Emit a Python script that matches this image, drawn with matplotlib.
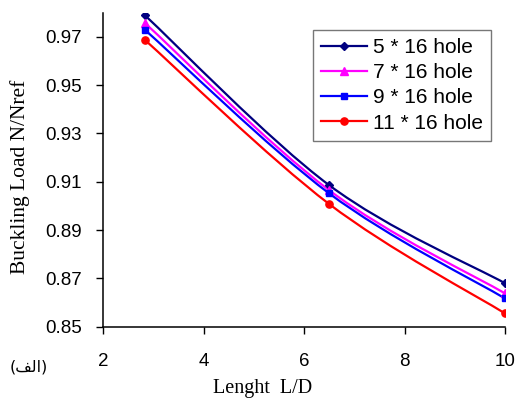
import matplotlib
matplotlib.use("Agg")
import matplotlib.pyplot as plt
from matplotlib.path import Path
from matplotlib.patches import PathPatch
from matplotlib.lines import Line2D
import numpy as np

# Data
x_ld = [2.83, 6.5, 10.0]
series_names = ["5 * 16 hole", "7 * 16 hole", "9 * 16 hole", "11 * 16 hole"]
s5 = [0.979, 0.9086, 0.868]
s7 = [0.9758, 0.9065, 0.8638]
s9 = [0.973, 0.9052, 0.8617]
s11 = [0.9688, 0.9008, 0.8555]
xticks = [2, 4, 6, 8, 10]
yticks = [0.85, 0.87, 0.89, 0.91, 0.93, 0.95, 0.97]

colors = ["#000080", "#FF00FF", "#0000FF", "#FF0000"]
markers = ["D", "^", "s", "o"]
msizes = [4.5, 5.5, 4.8, 5.2]

fig = plt.figure(figsize=(5.19, 4.0), dpi=100)
ax = fig.add_axes([103/519, 1-326.7/400, (505-103)/519, (326.7-12.7)/400])


def smooth_path(xs, ys):
    P = np.column_stack([xs, ys])
    n = len(P)
    verts = [P[0]]
    codes = [Path.MOVETO]
    for i in range(n - 1):
        p_prev = P[i - 1] if i > 0 else P[i]
        p_next2 = P[i + 2] if i + 2 < n else P[i + 1]
        c1 = P[i] + (P[i + 1] - p_prev) / 6.0
        c2 = P[i + 1] - (p_next2 - P[i]) / 6.0
        verts += [c1, c2, P[i + 1]]
        codes += [Path.CURVE4] * 3
    return Path(verts, codes)


handles = []
for ys, c, m, ms, name in zip([s5, s7, s9, s11], colors, markers, msizes, series_names):
    patch = PathPatch(smooth_path(x_ld, ys), facecolor="none", edgecolor=c, lw=1.6,
                      transform=ax.transData, zorder=2)
    ax.add_patch(patch)
    ax.plot(x_ld, ys, linestyle="none", marker=m, color=c, markersize=ms, zorder=3)
    handles.append(Line2D([], [], color=c, lw=1.6, marker=m, markersize=ms, label=name))

ax.set_xlim(2, 10)
ax.set_ylim(0.85, 0.98)
ax.set_xticks(xticks)
ax.set_yticks(yticks)
ax.set_xticklabels([str(v) for v in xticks], family="Liberation Sans", fontsize=13.5)
ax.set_yticklabels([f"{v:.2f}" for v in yticks], family="Liberation Sans", fontsize=13.5)
ax.tick_params(axis="x", direction="out", length=5, width=1, pad=14)
ax.tick_params(axis="y", direction="out", length=5, width=1, pad=10)

for side in ["top", "right"]:
    ax.spines[side].set_visible(False)
for side in ["left", "bottom"]:
    ax.spines[side].set_linewidth(1.1)

fig.text(263/519, 1-388/400, "Lenght  L/D", family="Liberation Serif", fontsize=14.5,
         ha="center", va="center")
fig.text(20/519, 1-177/400, "Buckling Load N/Nref", family="Liberation Serif", fontsize=15.5,
         ha="center", va="center", rotation=90)
fig.text(29/519, 1-367/400, "(\uFED2\uFEDF\uFE8D)", family=["DejaVu Sans"], fontsize=11.5,
         ha="center", va="center")

leg = ax.legend(handles=handles, loc="upper left",
                bbox_to_anchor=((313-103)/402, 1-(30-12.7)/314),
                prop={"family": "Liberation Sans", "size": 15},
                frameon=True, fancybox=False, edgecolor="#555555", handlelength=2.2,
                handletextpad=0.3, labelspacing=0.3, borderpad=0.38, borderaxespad=0)
leg.get_frame().set_linewidth(1.0)

fig.savefig("out.png", dpi=100)
